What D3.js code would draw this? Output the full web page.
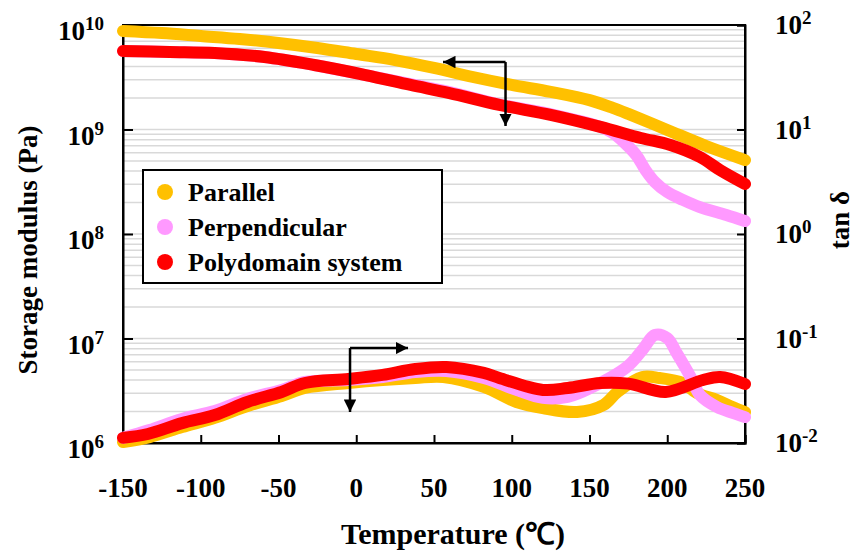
<!DOCTYPE html>
<html>
<head>
<meta charset="utf-8">
<script src="https://cdn.jsdelivr.net/npm/d3@7"></script>
<style>
body { margin: 0; background: #fff; }
text { font-family: "Liberation Serif", "Times New Roman", serif; font-weight: bold; fill: #000; }
</style>
</head>
<body>
<script>
var svgWidth = 854;
var svgHeight = 551;
var margin = {top: 25, right: 109, bottom: 108, left: 123};

// x axis ticks
var xTicks = [-150, -100, -50, 0, 50, 100, 150, 200, 250];
var leftExps = [6, 7, 8, 9, 10];
var rightExps = [-2, -1, 0, 1, 2];

// storage modulus (Pa)
var gParT = [-150, -125, -100, -75, -50, -25, 0, 25, 50, 75, 100, 125, 150, 165, 175, 200, 225, 250];
var gParV = [8.77e9, 8.38e9, 7.85e9, 7.35e9, 6.73e9, 6.03e9, 5.28e9, 4.62e9, 3.88e9, 3.18e9, 2.67e9, 2.29e9, 1.91e9, 1.61e9, 1.41e9, 9.9e8, 6.95e8, 5.1e8];
var gPerT = [-150, -120, -91, -59, -27, 6, 35, 60, 92, 125, 157, 165, 172, 180, 186, 192, 200, 210, 221, 238, 250];
var gPerV = [5.64e9, 5.52e9, 5.40e9, 4.94e9, 4.14e9, 3.32e9, 2.72e9, 2.28e9, 1.74e9, 1.40e9, 1.06e9, 9.26e8, 7.59e8, 5.70e8, 4.09e8, 3.15e8, 2.52e8, 2.12e8, 1.81e8, 1.52e8, 1.33e8];
var gPolT = [-150, -120, -91, -59, -27, 6, 35, 60, 92, 125, 157, 183, 202, 221, 234, 250];
var gPolV = [5.64e9, 5.52e9, 5.40e9, 4.94e9, 4.14e9, 3.32e9, 2.67e9, 2.23e9, 1.72e9, 1.38e9, 1.06e9, 8.30e8, 7.11e8, 5.46e8, 4.09e8, 3.01e8];

// tan delta
var tParT = [-150, -133, -112, -91, -70, -48, -33, -5, 17, 38, 56, 82, 103, 120, 142, 159, 168, 184, 195, 210, 219, 232, 242, 250];
var tParV = [0.0102, 0.0114, 0.0142, 0.0174, 0.0226, 0.0282, 0.0336, 0.0375, 0.0401, 0.0419, 0.0428, 0.0344, 0.0247, 0.0216, 0.0198, 0.0231, 0.0308, 0.0428, 0.0419, 0.0375, 0.0301, 0.0258, 0.0221, 0.0198];
var tPerT = [-150, -133, -112, -91, -70, -48, -33, -5, 17, 38, 58, 82, 103, 120, 136, 152, 174, 184, 192, 200, 206, 215, 221, 232, 242, 250];
var tPerV = [0.0112, 0.0133, 0.0170, 0.0202, 0.0264, 0.0322, 0.0384, 0.0401, 0.0428, 0.0478, 0.0489, 0.0419, 0.0322, 0.0270, 0.0276, 0.0344, 0.0534, 0.0777, 0.108, 0.101, 0.0727, 0.0428, 0.0288, 0.0221, 0.0194, 0.0177];
var tPolT = [-150, -134, -112, -91, -70, -48, -33, -5, 17, 38, 58, 82, 92, 120, 136, 157, 175, 199, 223, 234, 250];
var tPolV = [0.0112, 0.0122, 0.0155, 0.0185, 0.0247, 0.0308, 0.0375, 0.0410, 0.0448, 0.0511, 0.0534, 0.0468, 0.0419, 0.0322, 0.0336, 0.0375, 0.0370, 0.0308, 0.0401, 0.0428, 0.0367];

var names = ["Parallel", "Perpendicular", "Polydomain system"];
var colors = ["#FFC000", "#FF99FF", "#FF0000"];

var zip = function (a, b) { return a.map(function (d, i) { return [d, b[i]]; }); };

var svg = d3.select("body").append("svg")
    .attr("width", svgWidth)
    .attr("height", svgHeight);

var x0 = margin.left, x1 = svgWidth - margin.right;
var y0 = margin.top, y1 = svgHeight - margin.bottom;

var x = d3.scaleLinear().domain([-150, 250]).range([x0, x1]);
var yL = d3.scaleLog().domain([1e6, 1e10]).range([y1, y0]);
var yR = d3.scaleLog().domain([1e-2, 1e2]).range([y1, y0]);

// light grid lines at every log step
svg.append("g").selectAll("line")
    .data(yL.ticks())
    .enter().append("line")
    .attr("x1", x0).attr("x2", x1)
    .attr("y1", function (d) { return yL(d); })
    .attr("y2", function (d) { return yL(d); })
    .attr("stroke", "#d9d9d9")
    .attr("stroke-width", 1.5);

// frame
svg.append("rect")
    .attr("x", x0).attr("y", y0)
    .attr("width", x1 - x0).attr("height", y1 - y0)
    .attr("fill", "none").attr("stroke", "#000").attr("stroke-width", 2);

// ticks (pointing inward)
var axL = svg.append("g").attr("transform", "translate(" + x0 + ",0)")
    .call(d3.axisLeft(yL).tickValues(leftExps.map(function (e) { return Math.pow(10, e); })).tickSize(-10).tickFormat(""));
var axR = svg.append("g").attr("transform", "translate(" + x1 + ",0)")
    .call(d3.axisRight(yR).tickValues(rightExps.map(function (e) { return Math.pow(10, e); })).tickSize(-8).tickFormat(""));
var axB = svg.append("g").attr("transform", "translate(0," + y1 + ")")
    .call(d3.axisBottom(x).tickValues(xTicks).tickSize(-8).tickFormat(""));
[axL, axR, axB].forEach(function (a) {
    a.select(".domain").attr("stroke-width", 2);
    a.selectAll(".tick line").attr("stroke-width", 2);
});

// power-of-ten labels
var powLabel = function (xp, yp, e, anchor) {
    var t = svg.append("text")
        .attr("x", xp).attr("y", yp)
        .attr("text-anchor", anchor)
        .attr("font-size", 27);
    t.append("tspan").text("10");
    t.append("tspan").attr("dy", -10).attr("font-size", 19).text(e);
};
leftExps.forEach(function (e) { powLabel(104, yL(Math.pow(10, e)) + 15, e, "end"); });
rightExps.forEach(function (e) { powLabel(775, yR(Math.pow(10, e)) + 9, e, "start"); });

svg.append("g").selectAll("text")
    .data(xTicks)
    .enter().append("text")
    .attr("x", function (d) { return x(d); })
    .attr("y", 497)
    .attr("text-anchor", "middle")
    .attr("font-size", 27)
    .text(function (d) { return d; });

svg.append("text")
    .attr("x", 453).attr("y", 544)
    .attr("text-anchor", "middle")
    .attr("font-size", 30)
    .text("Temperature (℃)");

svg.append("text")
    .attr("transform", "translate(28,250) rotate(-90)")
    .attr("text-anchor", "middle")
    .attr("dominant-baseline", "central")
    .attr("font-size", 27)
    .text("Storage modulus (Pa)");

svg.append("text")
    .attr("transform", "translate(849,220) rotate(-90)")
    .attr("text-anchor", "middle")
    .attr("font-size", 27)
    .text("tan δ");

// curves
var lineL = d3.line().x(function (d) { return x(d[0]); }).y(function (d) { return yL(d[1]); }).curve(d3.curveCatmullRom.alpha(0.5));
var lineR = d3.line().x(function (d) { return x(d[0]); }).y(function (d) { return yR(d[1]); }).curve(d3.curveCatmullRom.alpha(0.5));

var series = [
    {path: lineL(zip(gParT, gParV)), c: colors[0]},
    {path: lineR(zip(tParT, tParV)), c: colors[0]},
    {path: lineL(zip(gPerT, gPerV)), c: colors[1]},
    {path: lineR(zip(tPerT, tPerV)), c: colors[1]},
    {path: lineL(zip(gPolT, gPolV)), c: colors[2]},
    {path: lineR(zip(tPolT, tPolV)), c: colors[2]}
];
svg.append("g").selectAll("path")
    .data(series)
    .enter().append("path")
    .attr("d", function (d) { return d.path; })
    .attr("fill", "none")
    .attr("stroke", function (d) { return d.c; })
    .attr("stroke-width", 12)
    .attr("stroke-linecap", "round")
    .attr("stroke-linejoin", "round");

// legend
svg.append("rect")
    .attr("x", 143).attr("y", 170).attr("width", 299).attr("height", 113)
    .attr("fill", "#fff").attr("stroke", "#000").attr("stroke-width", 2);
var leg = svg.append("g").selectAll("g")
    .data(names)
    .enter().append("g")
    .attr("transform", function (d, i) { return "translate(165," + (192 + i * 35) + ")"; });
leg.append("circle").attr("r", 8).attr("fill", function (d, i) { return colors[i]; });
leg.append("text").attr("x", 23).attr("y", 9).attr("font-size", 26).text(function (d) { return d; });

// arrows
svg.append("defs").append("marker")
    .attr("id", "head")
    .attr("viewBox", "0 0 10 10")
    .attr("refX", 10).attr("refY", 5)
    .attr("markerWidth", 5).attr("markerHeight", 5)
    .attr("markerUnits", "strokeWidth")
    .attr("orient", "auto")
    .append("path").attr("d", "M0,0 L10,5 L0,10 Z").attr("fill", "#000");

var arrow = function (pts) {
    svg.append("path")
        .attr("d", d3.line()(pts))
        .attr("fill", "none")
        .attr("stroke", "#000")
        .attr("stroke-width", 2.5)
        .attr("marker-end", "url(#head)");
};
// storage modulus -> left axis
arrow([[x(96), yL(4.42e9)], [x(55.8), yL(4.42e9)]]);
arrow([[x(96), yL(4.42e9)], [x(96), yL(1.08e9)]]);
// tan delta -> right axis
arrow([[x(-4), yR(0.081)], [x(33.3), yR(0.081)]]);
arrow([[x(-4), yR(0.081)], [x(-4), yR(0.0198)]]);
</script>
</body>
</html>
